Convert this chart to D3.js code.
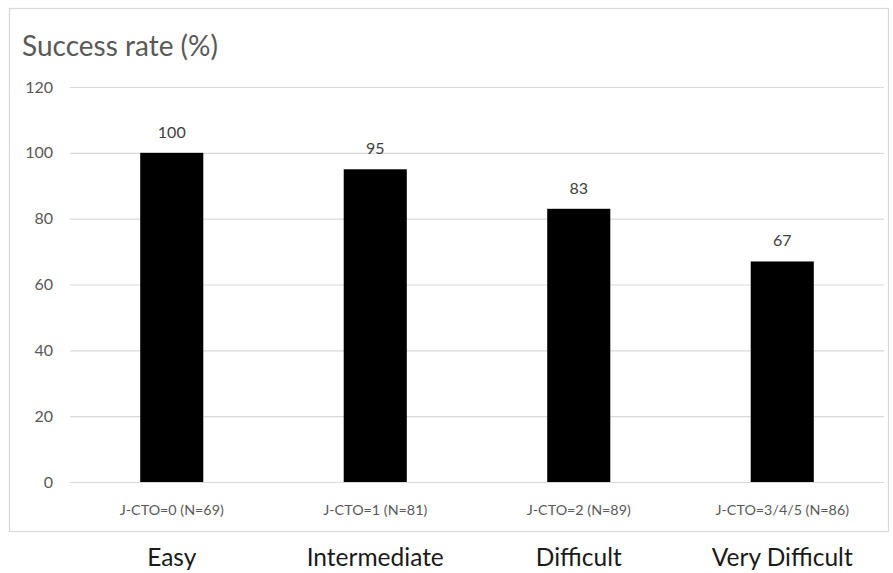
<!DOCTYPE html>
<html>
<head>
<meta charset="utf-8">
<script src="https://cdn.jsdelivr.net/npm/d3@7"></script>
<style>
  body { margin: 0; background: #fff; }
  text { font-family: Lato, "Open Sans", sans-serif; }
</style>
</head>
<body>
<div id="chart"></div>
<script>
// chart values
const groups = ["Easy", "Intermediate", "Difficult", "Very Difficult"];
const subLabels = ["J-CTO=0 (N=69)", "J-CTO=1 (N=81)", "J-CTO=2 (N=89)", "J-CTO=3/4/5 (N=86)"];
const successRate = [100, 95, 83, 67];
const yTicks = [0, 20, 40, 60, 80, 100, 120];

const W = 893, H = 573;
const margin = { top: 87, right: 9, bottom: 91, left: 70 };
const width = 884 - margin.left, height = 482 - margin.top;

const svg = d3.select("#chart").append("svg")
  .attr("width", W).attr("height", H);

// outer frame
svg.append("rect")
  .attr("x", 9.5).attr("y", 8.5)
  .attr("width", 879).attr("height", 523)
  .attr("fill", "none").attr("stroke", "#d9d9d9").attr("stroke-width", 1.3);

svg.append("text")
  .attr("x", 22).attr("y", 56)
  .attr("font-size", 28).attr("fill", "#595959")
  .text("Success rate (%)");

const g = svg.append("g").attr("transform", "translate(" + margin.left + "," + margin.top + ")");

const x = d3.scaleBand().domain(groups).range([0, width]).paddingInner(0.69).paddingOuter(0.345);
const y = d3.scaleLinear().domain([0, 120]).range([height, 0]);

// gridlines + y labels
const yAxis = g.append("g")
  .call(d3.axisLeft(y).tickValues(yTicks).tickSize(-width).tickPadding(17));
yAxis.select(".domain").remove();
yAxis.selectAll(".tick line").attr("stroke", "#d9d9d9").attr("stroke-width", 1.2);
yAxis.selectAll(".tick text").attr("font-size", 16).attr("fill", "#595959")
  .style("font-family", "Lato, 'Open Sans', sans-serif");

// bars
g.selectAll(".bar").data(successRate).join("rect")
  .attr("class", "bar")
  .attr("x", (d, i) => x(groups[i]))
  .attr("y", d => y(d))
  .attr("width", x.bandwidth())
  .attr("height", d => height - y(d))
  .attr("fill", "#000");

// value labels
g.selectAll(".val").data(successRate).join("text")
  .attr("class", "val")
  .attr("x", (d, i) => x(groups[i]) + x.bandwidth() / 2)
  .attr("y", d => y(d) - 15)
  .attr("text-anchor", "middle")
  .attr("font-size", 16).attr("fill", "#404040")
  .text(d => d);

// sub labels (category axis)
const xAxis = g.append("g").attr("transform", "translate(0," + height + ")")
  .call(d3.axisBottom(x).tickSize(0).tickPadding(23).tickFormat((d, i) => subLabels[i]));
xAxis.select(".domain").remove();
xAxis.selectAll(".tick text").attr("font-size", 14.3).attr("fill", "#595959")
  .style("font-family", "Lato, 'Open Sans', sans-serif");

// group labels below frame
svg.selectAll(".grp").data(groups).join("text")
  .attr("class", "grp")
  .attr("x", d => margin.left + x(d) + x.bandwidth() / 2)
  .attr("y", 566)
  .attr("text-anchor", "middle")
  .attr("font-size", 24.5).attr("fill", "#1a1a1a")
  .text(d => d);
</script>
</body>
</html>
